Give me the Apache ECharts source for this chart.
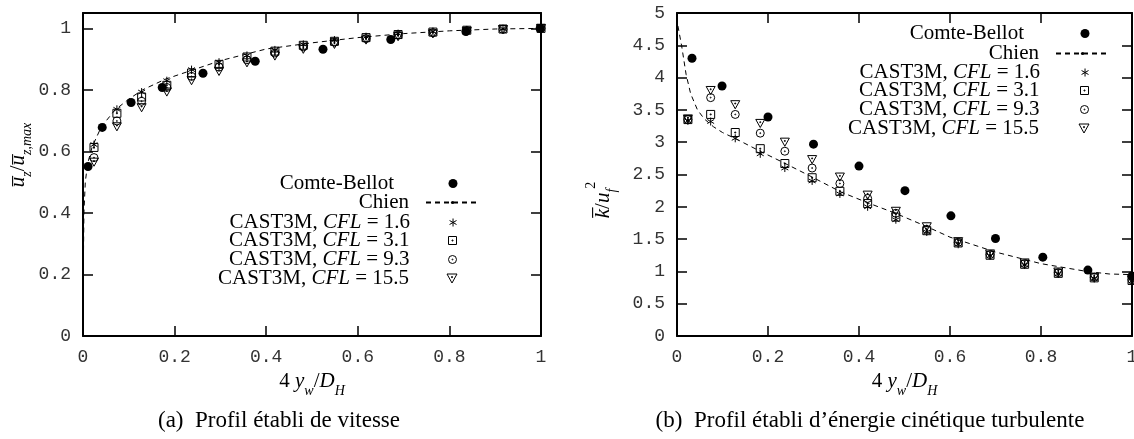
<!DOCTYPE html>
<html><head><meta charset="utf-8">
<script src="https://cdn.jsdelivr.net/npm/echarts@6/dist/echarts.min.js"></script>
<style>html,body{margin:0;padding:0;background:#fff}#c{width:1134px;height:439px}</style>
</head><body><div id="c"></div>
<script>
// ---------- data ----------
const castX = [0.024,0.074,0.128,0.183,0.237,0.297,0.358,0.419,0.481,0.549,0.618,0.688,0.764,0.838,0.917,1.0];

// (a) velocity profile
const velCBx = [0.011,0.042,0.105,0.173,0.262,0.376,0.524,0.672,0.836,0.998];
const velCBy = [0.551,0.678,0.759,0.808,0.854,0.893,0.932,0.964,0.990,1.0];
const velChienX = [0.0005,0.002,0.005,0.01,0.02,0.04,0.07,0.1,0.13,0.18,0.25,0.3,0.4,0.5,0.6,0.7,0.8,0.9,1.0];
const velChienY = [0.19,0.4,0.5,0.56,0.615,0.68,0.735,0.77,0.8,0.835,0.87,0.895,0.933,0.953,0.97,0.983,0.992,0.998,1.0];
const velCFL16  = [0.622,0.737,0.793,0.830,0.866,0.890,0.912,0.930,0.948,0.962,0.973,0.983,0.990,0.995,0.999,1.0];
const velCFL31  = [0.613,0.724,0.777,0.815,0.855,0.883,0.907,0.926,0.945,0.958,0.970,0.980,0.988,0.994,0.998,1.0];
const velCFL93  = [0.580,0.699,0.763,0.808,0.844,0.874,0.898,0.920,0.940,0.955,0.967,0.978,0.986,0.993,0.997,1.0];
const velCFL155 = [0.565,0.680,0.742,0.793,0.830,0.860,0.888,0.910,0.932,0.948,0.962,0.973,0.982,0.990,0.996,1.0];

// (b) turbulent kinetic energy profile
const tkeCBx = [0.033,0.099,0.2,0.3,0.4,0.501,0.602,0.70,0.804,0.903,1.0];
const tkeCBy = [4.30,3.87,3.39,2.97,2.63,2.25,1.86,1.51,1.22,1.02,0.93];
const tkeChienX = [0.002,0.01,0.02,0.03,0.045,0.06,0.08,0.1,0.13,0.18,0.235,0.3,0.36,0.42,0.48,0.55,0.6,0.7,0.8,0.9,0.95,1.0];
const tkeChienY = [4.8,4.5,4.05,3.75,3.5,3.36,3.24,3.15,3.05,2.87,2.68,2.45,2.23,2.06,1.9,1.69,1.53,1.3,1.12,1.0,0.96,0.95];
const tkeCFL16  = [3.33,3.32,3.06,2.82,2.60,2.40,2.20,2.00,1.80,1.61,1.42,1.24,1.10,0.96,0.89,0.85];
const tkeCFL31  = [3.35,3.43,3.15,2.90,2.67,2.45,2.24,2.05,1.84,1.63,1.44,1.25,1.11,0.97,0.90,0.86];
const tkeCFL93  = [3.35,3.69,3.43,3.14,2.86,2.60,2.36,2.13,1.90,1.65,1.45,1.26,1.12,0.98,0.91,0.87];
const tkeCFL155 = [3.36,3.80,3.58,3.29,3.00,2.73,2.46,2.18,1.93,1.69,1.46,1.27,1.13,0.99,0.91,0.87];

const seriesNames = ['Comte-Bellot','Chien','CFL1.6','CFL3.1','CFL9.3','CFL15.5'];
const legendLabels = ['Comte-Bellot','Chien','CAST3M, {i|CFL} = 1.6','CAST3M, {i|CFL} = 3.1','CAST3M, {i|CFL} = 9.3','CAST3M, {i|CFL} = 15.5'];
const captions = ['(a)  Profil établi de vitesse', '(b)  Profil établi d\u2019énergie cinétique turbulente'];
const xTitle = '{n|4 }{m|y}{s|w}{n|/}{m|D}{s|H}';
const yTitles = ['{m|u\u0305}{s|z}{n|/}{m|u\u0305}{s|z,max}', '{m|k\u0305}{n|/}{m|u}{s|f}{p|2}'];

// ---------- styling ----------
const MONO = 'Liberation Mono';
const SERIF = 'Liberation Serif';
const symAst = 'path://M5 0L5 10M0.67 2.5L9.33 7.5M0.67 7.5L9.33 2.5';
const symSq = 'path://M0 0L10 0L10 10L0 10ZM4.4 4.4L5.6 4.4L5.6 5.6L4.4 5.6Z';
const symCi = 'path://M0 5A5 5 0 1 1 10 5A5 5 0 1 1 0 5ZM4.4 5A0.6 0.6 0 1 1 5.6 5A0.6 0.6 0 1 1 4.4 5Z';
const symTr = 'path://M0 0L10 0L5 9ZM4.5 2.6L5.5 2.6L5.5 3.6L4.5 3.6Z';

function zip(xs, ys){ return xs.map((x,i)=>[x, ys[i]]); }

const grids = [
  {left: 83, right: 593, top: 13, bottom: 103, containLabel: false, outerBoundsMode: 'none'},
  {left: 677, right: 2, top: 13, bottom: 103, containLabel: false, outerBoundsMode: 'none'}
];

const richName = {
  n:{fontFamily: SERIF, fontSize: 21, fontStyle:'normal', fill:'#000', color:'#000'},
  m:{fontFamily: SERIF, fontSize: 21, fontStyle:'italic', fill:'#000', color:'#000'},
  s:{fontFamily: SERIF, fontSize: 14, fontStyle:'italic', fill:'#000', color:'#000', verticalAlign:'bottom', padding:[0,0,-6,0]},
  p:{fontFamily: SERIF, fontSize: 14, fontStyle:'normal', fill:'#000', color:'#000', verticalAlign:'top', padding:[-8,0,0,0]}
};
const lineStyleAxis = {color:'#000', width: 2};
function mkX(gi, pos, showLabel, name){
  return {
    type:'value', gridIndex: gi, position: pos, min: 0, max: 1, interval: 0.2,
    axisLine: {show: true, onZero: false, lineStyle: lineStyleAxis},
    axisTick: {show: true, inside: true, length: 10, lineStyle: {color:'#000', width: 1.5}},
    axisLabel: {show: showLabel, margin: 12, fontFamily: MONO, fontSize: 18, color: '#333'},
    splitLine: {show: false},
    name: name || '', nameLocation: 'middle', nameGap: 35,
    nameTextStyle: {fontFamily: SERIF, fontSize: 21, color:'#000', fontStyle:'italic', rich: richName}
  };
}
function mkY(gi, pos, showLabel, max, interval){
  return {
    type:'value', gridIndex: gi, position: pos, min: 0, max: max, interval: interval,
    axisLine: {show: true, onZero: false, lineStyle: lineStyleAxis},
    axisTick: {show: true, inside: true, length: 10, lineStyle: {color:'#000', width: 1.5}},
    axisLabel: {show: showLabel, margin: 12, fontFamily: MONO, fontSize: 18, color: '#333', showMaxLabel: max !== 1.05},
    splitLine: {show: false}
  };
}

const xAxes = [mkX(0,'bottom',true,xTitle), mkX(0,'top',false), mkX(1,'bottom',true,xTitle), mkX(1,'top',false)];
const yAxes = [mkY(0,'left',true,1.05,0.2), mkY(0,'right',false,1.05,0.2), mkY(1,'left',true,5,0.5), mkY(1,'right',false,5,0.5)];

const symbols = ['circle', null, symAst, symSq, symCi, symTr];
const sizes = [9, 0, 8, 8, 8, 9];
const dataSets = [
  [zip(velCBx, velCBy), zip(velChienX, velChienY), zip(castX, velCFL16), zip(castX, velCFL31), zip(castX, velCFL93), zip(castX, velCFL155)],
  [zip(tkeCBx, tkeCBy), zip(tkeChienX, tkeChienY), zip(castX, tkeCFL16), zip(castX, tkeCFL31), zip(castX, tkeCFL93), zip(castX, tkeCFL155)]
];

const series = [];
for (let gi = 0; gi < 2; gi++) {
  for (let k = 0; k < 6; k++) {
    const base = {name: seriesNames[k], xAxisIndex: gi*2, yAxisIndex: gi*2, data: dataSets[gi][k], silent: true, animation: false, z: 3};
    if (k === 1) {
      series.push(Object.assign(base, {type:'line', symbol:'none', smooth: false,
        lineStyle: {color:'#000', width: 1, type: [5, 4]}, itemStyle: {color:'#000'}, z: 2}));
    } else if (k === 0) {
      series.push(Object.assign(base, {type:'scatter', symbol:'circle', symbolSize: sizes[k],
        itemStyle: {color:'#000', opacity: 1}}));
    } else {
      series.push(Object.assign(base, {type:'scatter', symbol: symbols[k], symbolSize: sizes[k], symbolKeepAspect: true,
        itemStyle: {color:'rgba(0,0,0,0)', borderColor:'#000', borderWidth: 1, opacity: 1}}));
    }
  }
}

// legends: one per entry so that text is right-aligned with marker on the right
const legendCfg = [
  {symX: 453, dashL: 427, dashR: 480, textR: 410, rows: [183, 202, 222, 240, 259, 278]},
  {symX: 1085, dashL: 1057, dashR: 1110, textR: 1040, rows: [33, 53, 72, 90, 109, 128]}
];
const legends = [];
legendCfg.forEach(cfg => {
  for (let k = 0; k < 6; k++) {
    let itemWidth, right, padR;
    if (k === 1) {
      itemWidth = cfg.dashR - cfg.dashL;
      right = 1134 - cfg.dashR;
      padR = cfg.dashL - 5 - cfg.textR;
    } else {
      itemWidth = (cfg.symX - cfg.textR - 5) * 2;
      right = 1134 - (cfg.symX + sizes[k] / 2);
      padR = k === 0 ? 16 : 0;
    }
    legends.push({
      data: [seriesNames[k]], orient: 'horizontal', align: 'right', right: right, top: cfg.rows[k] - 10,
      padding: 0, itemGap: 0, itemWidth: itemWidth, itemHeight: k === 1 ? 4 : sizes[k], selectedMode: false,
      formatter: () => legendLabels[k],
      itemStyle: {borderWidth: 1},
      textStyle: {fontFamily: SERIF, fontSize: 21, lineHeight: 20, color:'#000', padding: [0, padR, 0, 0],
        rich: {i: {fontFamily: SERIF, fontSize: 21, fontStyle: 'italic', color:'#000'}}}
    });
  }
});

const chart = echarts.init(document.getElementById('c'), null, {renderer: 'canvas'});
chart.setOption({
  animation: false,
  backgroundColor: '#fff',
  grid: grids,
  xAxis: xAxes,
  yAxis: yAxes,
  legend: legends,
  series: series,
  graphic: [
    {type:'text', x: 18, y: 155, rotation: Math.PI / 2, silent: true,
      style: {text: yTitles[0], align:'center', verticalAlign:'middle', fontFamily: SERIF, fontSize: 21, fontStyle:'italic', fill:'#000', rich: richName}},
    {type:'text', x: 603, y: 200, rotation: Math.PI / 2, silent: true,
      style: {text: yTitles[1], align:'center', verticalAlign:'middle', fontFamily: SERIF, fontSize: 21, fontStyle:'italic', fill:'#000', rich: richName}},
    {type:'text', x: 279, y: 421, silent: true, style: {text: captions[0], align:'center', verticalAlign:'middle', font: '23px "Liberation Serif"', fill:'#000'}},
    {type:'text', x: 870, y: 421, silent: true, style: {text: captions[1], align:'center', verticalAlign:'middle', font: '23px "Liberation Serif"', fill:'#000'}}
  ]
});
</script>
</body></html>
